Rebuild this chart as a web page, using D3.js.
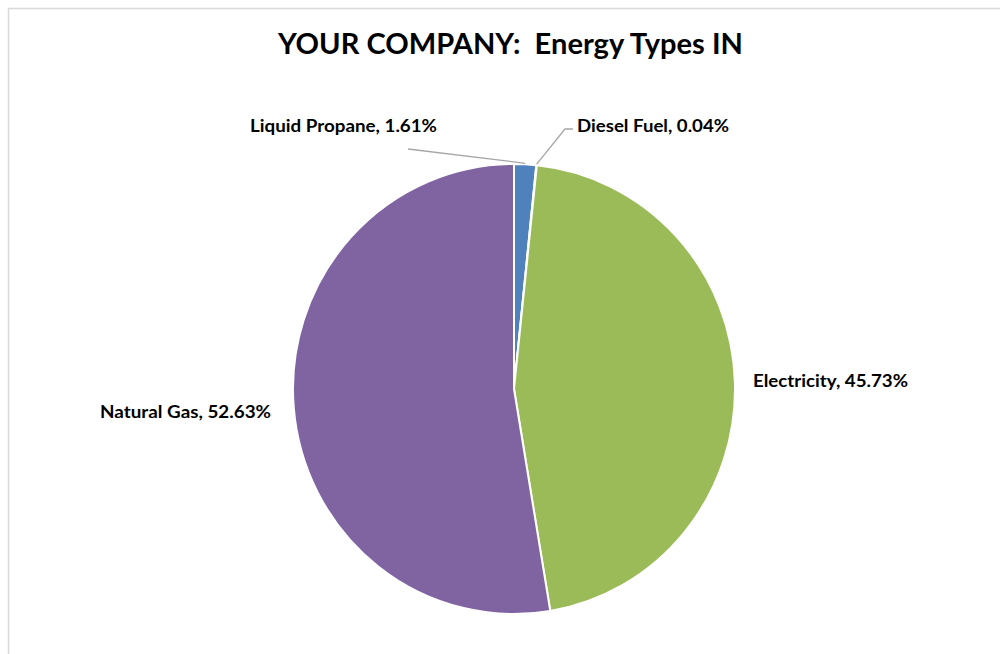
<!DOCTYPE html>
<html>
<head>
<meta charset="utf-8">
<script src="https://cdn.jsdelivr.net/npm/d3@7/dist/d3.min.js"></script>
<style>
  html, body { margin: 0; padding: 0; background: #fff; }
  svg { display: block; }
  text { font-family: Lato, "Open Sans", "DejaVu Sans", sans-serif; font-weight: bold; fill: #000; white-space: pre; }
</style>
</head>
<body>
<svg id="chart" width="1000" height="654"></svg>
<script>
// ---- data ----
const categories = ["Liquid Propane", "Diesel Fuel", "Electricity", "Natural Gas"];
const shares = [1.61, 0.04, 45.73, 52.63];
const pctLabels = ["1.61%", "0.04%", "45.73%", "52.63%"];
const titleText = "YOUR COMPANY:  Energy Types IN";

// ---- styling / layout (separate from data) ----
const colors = ["#4F81BD", "#C0504D", "#9BBB59", "#8064A2"];
const cx = 514, cy = 389, rx = 221, ry = 225;
// label anchor positions (left x, baseline y) and leader line elbows
const labelLayout = [
  { x: 250, y: 132, width: 187, leader: [[408, 149]] },
  { x: 577, y: 132, width: 152, leader: [[565, 129], [573, 129]] },
  { x: 753, y: 387, width: 155, leader: null },
  { x: 100, y: 418, width: 171, leader: null }
];

const svg = d3.select("#chart");

// outer border
svg.append("rect")
  .attr("x", 8.5).attr("y", 8.5)
  .attr("width", 1010).attr("height", 700)
  .attr("fill", "none")
  .attr("stroke", "#d9d9d9")
  .attr("stroke-width", 1.5);

// title
svg.append("text")
  .attr("x", 278).attr("y", 54)
  .attr("font-size", 28)
  .attr("textLength", 465)
  .attr("lengthAdjust", "spacingAndGlyphs")
  .attr("xml:space", "preserve")
  .text(titleText);

const data = categories.map((c, i) => ({ name: c, value: shares[i], label: pctLabels[i], color: colors[i], layout: labelLayout[i] }));

const pie = d3.pie().sort(null).value(d => d.value).startAngle(0).endAngle(2 * Math.PI);
const arcs = pie(data);
const arc = d3.arc().innerRadius(0).outerRadius(rx);

const g = svg.append("g")
  .attr("transform", `translate(${cx},${cy}) scale(1,${ry / rx})`);

g.selectAll("path.slice")
  .data(arcs)
  .join("path")
  .attr("class", "slice")
  .attr("d", arc)
  .attr("fill", d => d.data.color)
  .attr("stroke", "#fff")
  .attr("stroke-width", 2)
  .attr("stroke-linejoin", "round");

// leader lines
arcs.forEach(a => {
  const L = a.data.layout;
  if (!L.leader) return;
  const mid = (a.startAngle + a.endAngle) / 2;
  const px = cx + (rx + 1) * Math.sin(mid);
  const py = cy - (ry + 1) * Math.cos(mid);
  const pts = [[px, py]].concat(L.leader);
  svg.append("path")
    .attr("d", d3.line()(pts))
    .attr("fill", "none")
    .attr("stroke", "#a6a6a6")
    .attr("stroke-width", 1.3);
});

// labels
arcs.forEach(a => {
  const L = a.data.layout;
  svg.append("text")
    .attr("x", L.x).attr("y", L.y)
    .attr("font-size", 16.5)
    .attr("textLength", L.width)
    .attr("lengthAdjust", "spacingAndGlyphs")
    .text(`${a.data.name}, ${a.data.label}`);
});
</script>
</body>
</html>
